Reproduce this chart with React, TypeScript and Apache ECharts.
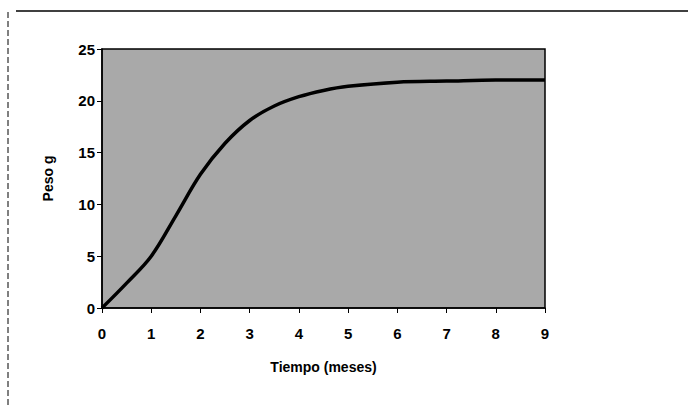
import React, { useEffect, useRef } from "react";
import * as echarts from "echarts";

const months = [0, 0.5, 1, 1.5, 2, 2.5, 3, 3.5, 4, 4.5, 5, 6, 7, 8, 9];
const weights = [0, 2.4, 5, 8.9, 12.9, 15.9, 18.1, 19.5, 20.4, 21.0, 21.4, 21.8, 21.9, 22.0, 22.0];
const xTicks = [0, 1, 2, 3, 4, 5, 6, 7, 8, 9];
const yTicks = [0, 5, 10, 15, 20, 25];
const xTitle = "Tiempo (meses)";
const yTitle = "Peso g";

export default function App() {
  const ref = useRef<HTMLDivElement>(null);
  useEffect(() => {
    document.body.style.margin = "0";
    const chart = echarts.init(ref.current!, null, { renderer: "svg" });
    const font = "Liberation Sans, Arial, sans-serif";
    chart.setOption({
      animation: false,
      backgroundColor: "#ffffff",
      grid: {
        left: 102,
        right: 143,
        top: 49,
        bottom: 100,
        show: true,
        backgroundColor: "#a9a9a9",
        borderColor: "#000",
        borderWidth: 1.5,
      },
      xAxis: {
        type: "value",
        min: xTicks[0],
        max: xTicks[xTicks.length - 1],
        interval: 1,
        name: xTitle,
        nameLocation: "middle",
        nameGap: 52,
        nameTextStyle: { fontFamily: font, fontWeight: "bold", fontSize: 14, color: "#000" },
        axisLine: { show: true, lineStyle: { color: "#000", width: 1.5 } },
        axisTick: { show: true, length: 5, lineStyle: { color: "#000" } },
        axisLabel: { margin: 18, fontFamily: font, fontWeight: "bold", fontSize: 15, color: "#000" },
        splitLine: { show: false },
      },
      yAxis: {
        type: "value",
        min: yTicks[0],
        max: yTicks[yTicks.length - 1],
        interval: 5,
        name: yTitle,
        nameLocation: "middle",
        nameRotate: 90,
        nameGap: 47,
        nameTextStyle: { fontFamily: font, fontWeight: "bold", fontSize: 14, color: "#000" },
        axisLine: { show: true, lineStyle: { color: "#000", width: 1.5 } },
        axisTick: { show: true, length: 5, lineStyle: { color: "#000" } },
        axisLabel: { margin: 7, fontFamily: font, fontWeight: "bold", fontSize: 15, color: "#000" },
        splitLine: { show: false },
      },
      series: [
        {
          type: "line",
          data: months.map((m, i) => [m, weights[i]]),
          smooth: 0.35,
          showSymbol: false,
          lineStyle: { color: "#000", width: 3.5 },
          clip: false,
        },
      ],
      graphic: [
        { type: "line", shape: { x1: 16, y1: 11, x2: 688, y2: 11 }, style: { stroke: "#000", lineWidth: 1.5 } },
        { type: "line", shape: { x1: 8, y1: 12, x2: 8, y2: 408 }, style: { stroke: "#000", lineWidth: 1, lineDash: [6, 3] } },
      ],
    });
    return () => chart.dispose();
  }, []);
  return <div ref={ref} style={{ width: 688, height: 408 }} />;
}
